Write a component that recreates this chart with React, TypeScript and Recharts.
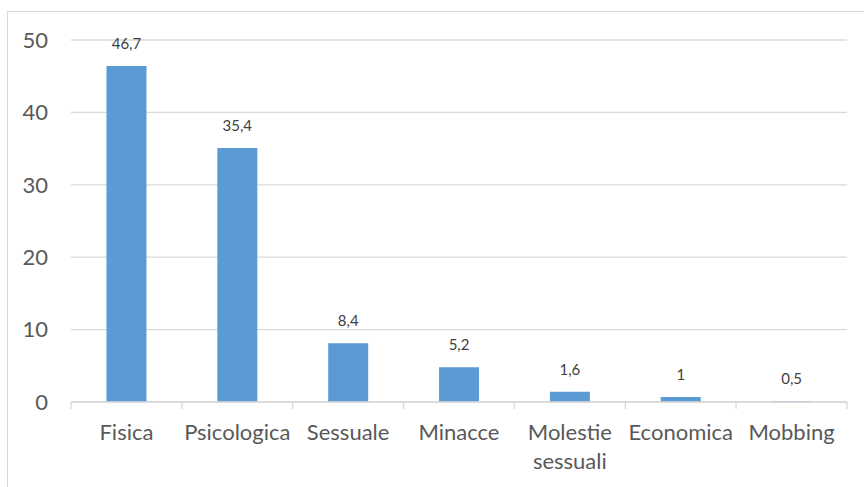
import React from 'react';
import { BarChart, Bar, XAxis, YAxis, CartesianGrid, LabelList } from 'recharts';

const categories = ['Fisica', 'Psicologica', 'Sessuale', 'Minacce', 'Molestie sessuali', 'Economica', 'Mobbing'];
const barValues = [46.4, 35.1, 8.1, 4.8, 1.4, 0.7, 0.1];
const valueLabels = ['46,7', '35,4', '8,4', '5,2', '1,6', '1', '0,5'];
const yTicks = [0, 10, 20, 30, 40, 50];

const data = categories.map((name, i) => ({ name, value: barValues[i], label: valueLabels[i] }));

const FONT = 'Lato, "Open Sans", sans-serif';
const CHART_W = 864;
const MARGIN = { top: 40, right: 17, left: 0, bottom: 0 };
const Y_W = 71;
const STEP = (CHART_W - MARGIN.right - Y_W) / categories.length;

// Excel-style: tick marks sit between categories, not under them
const CategoryTick = (props: any) => {
  const { x, y, payload, index } = props;
  const words: string[] = String(payload.value).split(' ');
  const last = index === categories.length - 1;
  return (
    <g>
      <line x1={x - STEP / 2} x2={x - STEP / 2} y1={y} y2={y + 7} stroke="#d9d9d9" strokeWidth={1.3} />
      {last && <line x1={x + STEP / 2} x2={x + STEP / 2} y1={y} y2={y + 7} stroke="#d9d9d9" strokeWidth={1.3} />}
      <text x={x} y={y} textAnchor="middle" fill="#595959" fontSize={22} fontFamily={FONT}>
        {words.map((w, i) => (
          <tspan key={i} x={x} dy={i === 0 ? 38 : 29}>
            {w}
          </tspan>
        ))}
      </text>
    </g>
  );
};

export default function App() {
  return (
    <div style={{ position: 'relative', width: 864, height: 487, overflow: 'hidden', background: '#fff' }}>
      <style>{'body{margin:0;overflow:hidden}'}</style>
      <div
        style={{
          position: 'absolute',
          left: 7,
          top: 11,
          width: 900,
          height: 520,
          border: '1px solid #d9d9d9',
        }}
      />
      <div style={{ position: 'absolute', left: 0, top: 0 }}>
        <BarChart
          width={CHART_W}
          height={487}
          data={data}
          margin={MARGIN}
          barCategoryGap="32%"
        >
          <CartesianGrid vertical={false} stroke="#d9d9d9" strokeWidth={1.3} />
          <XAxis
            dataKey="name"
            interval={0}
            axisLine={{ stroke: '#d9d9d9', strokeWidth: 1.3 }}
            tickLine={false}
            tickSize={0}
            tickMargin={0}
            height={85}
            tick={<CategoryTick />}
          />
          <YAxis
            domain={[0, 50]}
            ticks={yTicks}
            width={Y_W}
            axisLine={false}
            tickLine={false}
            tickSize={0}
            tickMargin={23}
            tick={{ fill: '#595959', fontSize: 22, fontFamily: FONT }}
          />
          <Bar dataKey="value" fill="#5b9bd5" isAnimationActive={false}>
            <LabelList
              dataKey="label"
              position="top"
              offset={17}
              fill="#404040"
              fontSize={15}
              fontFamily={FONT}
            />
          </Bar>
        </BarChart>
      </div>
    </div>
  );
}
